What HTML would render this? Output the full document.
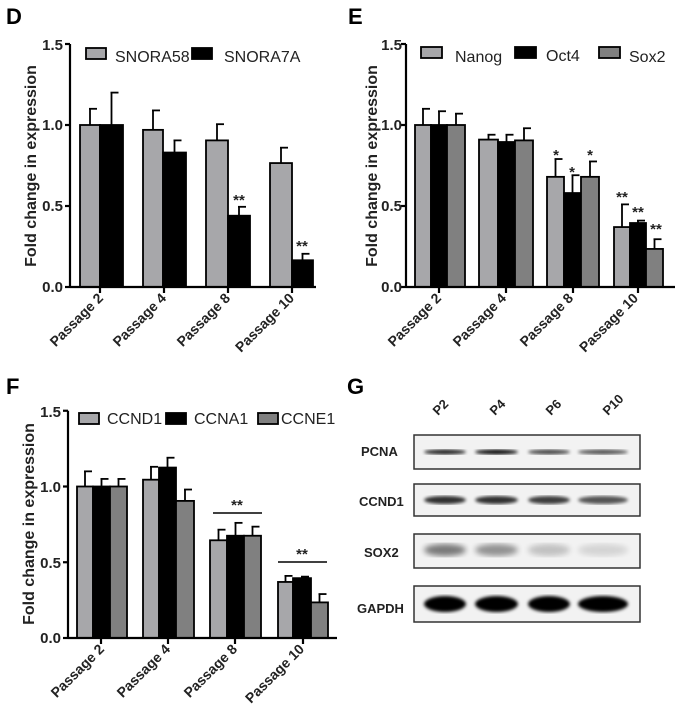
<!DOCTYPE html>
<html><head><meta charset="utf-8">
<style>
body{margin:0;background:#fff;}
svg{display:block;font-family:"Liberation Sans",Arial,sans-serif;}
.t{font-weight:bold;font-size:15px;fill:#222;}
.yl{font-weight:bold;font-size:16px;fill:#222;}
.lab{font-weight:bold;font-size:14px;fill:#222;}
.leg{font-size:16px;fill:#222;}
.big{font-weight:bold;font-size:22px;fill:#000;}
.bl{font-weight:bold;font-size:13px;fill:#222;}
</style></head><body>
<svg id="s" width="684" height="714" viewBox="0 0 684 714">
<defs><filter id="bl"><feGaussianBlur stdDeviation="1.6"/></filter><filter id="bl2"><feGaussianBlur stdDeviation="3"/></filter></defs>
<g id="bars"></g>
<!-- Panel D -->
<text class="big" x="6" y="24">D</text>
<text class="t" x="63" y="50" text-anchor="end">1.5</text>
<text class="t" x="63" y="130" text-anchor="end">1.0</text>
<text class="t" x="63" y="211" text-anchor="end">0.5</text>
<text class="t" x="63" y="292" text-anchor="end">0.0</text>
<text class="yl" transform="translate(36,166) rotate(-90)" text-anchor="middle">Fold change in expression</text>
<text class="leg" x="115" y="62">SNORA58</text>
<text class="leg" x="224" y="62">SNORA7A</text>
<text class="lab" transform="translate(104,299) rotate(-45)" text-anchor="end">Passage 2</text>
<text class="lab" transform="translate(167,299) rotate(-45)" text-anchor="end">Passage 4</text>
<text class="lab" transform="translate(231,299) rotate(-45)" text-anchor="end">Passage 8</text>
<text class="lab" transform="translate(295,299) rotate(-45)" text-anchor="end">Passage 10</text>
<text class="t" x="239" y="205" text-anchor="middle">**</text>
<text class="t" x="302" y="251" text-anchor="middle">**</text>
<!-- Panel E -->
<text class="big" x="348" y="24">E</text>
<text class="t" x="402" y="50" text-anchor="end">1.5</text>
<text class="t" x="402" y="130" text-anchor="end">1.0</text>
<text class="t" x="402" y="211" text-anchor="end">0.5</text>
<text class="t" x="402" y="292" text-anchor="end">0.0</text>
<text class="yl" transform="translate(377,166) rotate(-90)" text-anchor="middle">Fold change in expression</text>
<text class="leg" x="455" y="62">Nanog</text>
<text class="leg" x="546" y="61">Oct4</text>
<text class="leg" x="629" y="62">Sox2</text>
<text class="lab" transform="translate(442,299) rotate(-45)" text-anchor="end">Passage 2</text>
<text class="lab" transform="translate(507,299) rotate(-45)" text-anchor="end">Passage 4</text>
<text class="lab" transform="translate(574,299) rotate(-45)" text-anchor="end">Passage 8</text>
<text class="lab" transform="translate(639,299) rotate(-45)" text-anchor="end">Passage 10</text>
<text class="t" x="556" y="160" text-anchor="middle">*</text>
<text class="t" x="572" y="177" text-anchor="middle">*</text>
<text class="t" x="590" y="160" text-anchor="middle">*</text>
<text class="t" x="622" y="202" text-anchor="middle">**</text>
<text class="t" x="638" y="217" text-anchor="middle">**</text>
<text class="t" x="656" y="234" text-anchor="middle">**</text>
<!-- Panel F -->
<text class="big" x="6" y="394">F</text>
<text class="t" x="61" y="417" text-anchor="end">1.5</text>
<text class="t" x="61" y="492" text-anchor="end">1.0</text>
<text class="t" x="61" y="568" text-anchor="end">0.5</text>
<text class="t" x="61" y="643" text-anchor="end">0.0</text>
<text class="yl" transform="translate(34,524) rotate(-90)" text-anchor="middle">Fold change in expression</text>
<text class="leg" x="107" y="424">CCND1</text>
<text class="leg" x="194" y="424">CCNA1</text>
<text class="leg" x="281" y="424">CCNE1</text>
<text class="lab" transform="translate(105,650) rotate(-45)" text-anchor="end">Passage 2</text>
<text class="lab" transform="translate(171,650) rotate(-45)" text-anchor="end">Passage 4</text>
<text class="lab" transform="translate(238,650) rotate(-45)" text-anchor="end">Passage 8</text>
<text class="lab" transform="translate(305,650) rotate(-45)" text-anchor="end">Passage 10</text>
<line x1="213" y1="513" x2="262" y2="513" stroke="#000" stroke-width="1.5"/>
<text class="t" x="237" y="510" text-anchor="middle">**</text>
<line x1="278" y1="562" x2="327" y2="562" stroke="#000" stroke-width="1.5"/>
<text class="t" x="302" y="559" text-anchor="middle">**</text>
<!-- Panel G -->
<text class="big" x="347" y="394">G</text>
<text class="bl" transform="translate(438,416) rotate(-45)">P2</text>
<text class="bl" transform="translate(495,416) rotate(-45)">P4</text>
<text class="bl" transform="translate(551,416) rotate(-45)">P6</text>
<text class="bl" transform="translate(608,416) rotate(-45)">P10</text>
<text class="bl" x="361" y="456">PCNA</text>
<text class="bl" x="359" y="506">CCND1</text>
<text class="bl" x="364" y="557">SOX2</text>
<text class="bl" x="357" y="613">GAPDH</text>
<g id="blots"></g>
</svg>
<script>
var NS="http://www.w3.org/2000/svg",g=document.getElementById('bars');
function el(p,n,a){var e=document.createElementNS(NS,n);for(var k in a)e.setAttribute(k,a[k]);p.appendChild(e);return e;}
var L='#a7a7aa',B='#000',M='#808080';
function panel(ax,y0,sc,xe,bars,legs,ticks){
 bars.forEach(function(b){
  var yv=y0-sc*b[2],ye=y0-sc*b[3],cx=(b[0]+b[1])/2;
  el(g,'line',{x1:cx,y1:yv,x2:cx,y2:ye,stroke:'#000','stroke-width':1.8});
  el(g,'line',{x1:cx-1,y1:ye,x2:cx+7,y2:ye,stroke:'#000','stroke-width':1.8});
  el(g,'rect',{x:b[0],y:yv,width:b[1]-b[0],height:y0-yv,fill:b[4],stroke:'#000','stroke-width':1.8});
 });
 el(g,'line',{x1:ax,y1:y0-sc*1.5,x2:ax,y2:y0,stroke:'#000','stroke-width':2.2});
 el(g,'line',{x1:ax,y1:y0,x2:xe,y2:y0,stroke:'#000','stroke-width':2.2});
 [0,0.5,1,1.5].forEach(function(v){el(g,'line',{x1:ax-5,y1:y0-sc*v,x2:ax,y2:y0-sc*v,stroke:'#000','stroke-width':2.2});});
 ticks.forEach(function(t){el(g,'line',{x1:t,y1:y0,x2:t,y2:y0+6,stroke:'#000','stroke-width':2.2});});
 legs.forEach(function(l){el(g,'rect',{x:l[0],y:l[1],width:l[2],height:11,fill:l[3],stroke:'#000','stroke-width':1.8});});
}
panel(70,287,162,316,[
[80,100,1,1.1,L],[100,123,1,1.2,B],
[143,163,.97,1.09,L],[163,186,.83,.905,B],
[206,228,.905,1.005,L],[228,250,.44,.495,B],
[270,292,.765,.86,L],[292,313,.165,.205,B]],
[[86,48,20,L],[192,48,20,B]],[100,164,228,292]);
panel(406,287,162,675,[
[415,431,1,1.1,L],[431,447,1,1.085,B],[447,465,1,1.07,M],
[479,498,.91,.94,L],[498,515,.895,.94,B],[515,533,.905,.98,M],
[547,564,.68,.79,L],[564,581,.58,.69,B],[581,599,.68,.775,M],
[614,630,.37,.51,L],[630,646,.395,.41,B],[646,663,.235,.295,M]],
[[421,47,21,L],[515,47,21,B],[599,47,21,M]],[439,506,573,638]);
panel(68,638,151.5,337,[
[77,93,1,1.1,L],[93,110,1,1.05,B],[110,127,1,1.05,M],
[143,159,1.045,1.13,L],[159,176,1.125,1.19,B],[176,194,.905,.98,M],
[210,227,.645,.715,L],[227,244,.675,.76,B],[244,261,.675,.735,M],
[278,293,.37,.41,L],[293,311,.395,.405,B],[311,328,.235,.29,M]],
[[79,413,20,L],[166,413,20,B],[258,413,20,M]],[101,168,235,303]);
var bg=document.getElementById('blots');
var boxes=[[435,469],[484,516],[534,568],[586,622]];
boxes.forEach(function(b){el(bg,'rect',{x:414,y:b[0],width:226,height:b[1]-b[0],fill:'#f2f2f2',stroke:'#333','stroke-width':1.5});});
var lanes=[[424,466],[475,518],[528,570],[578,628]];
function band(i,y,h,op,f){var l=lanes[i];el(bg,'ellipse',{cx:(l[0]+l[1])/2,cy:y,rx:(l[1]-l[0])/2,ry:h,fill:'#000',opacity:op,filter:'url(#'+f+')'});}
[.85,.95,.7,.65].forEach(function(o,i){band(i,452,2.5,o,'bl');});
[.8,.8,.75,.65].forEach(function(o,i){band(i,500,4,o,'bl');});
[.5,.4,.2,.12].forEach(function(o,i){band(i,550,6,o,'bl2');});
[1,1,1,1].forEach(function(o,i){band(i,604,8,o,'bl');});
</script>
</body></html>
